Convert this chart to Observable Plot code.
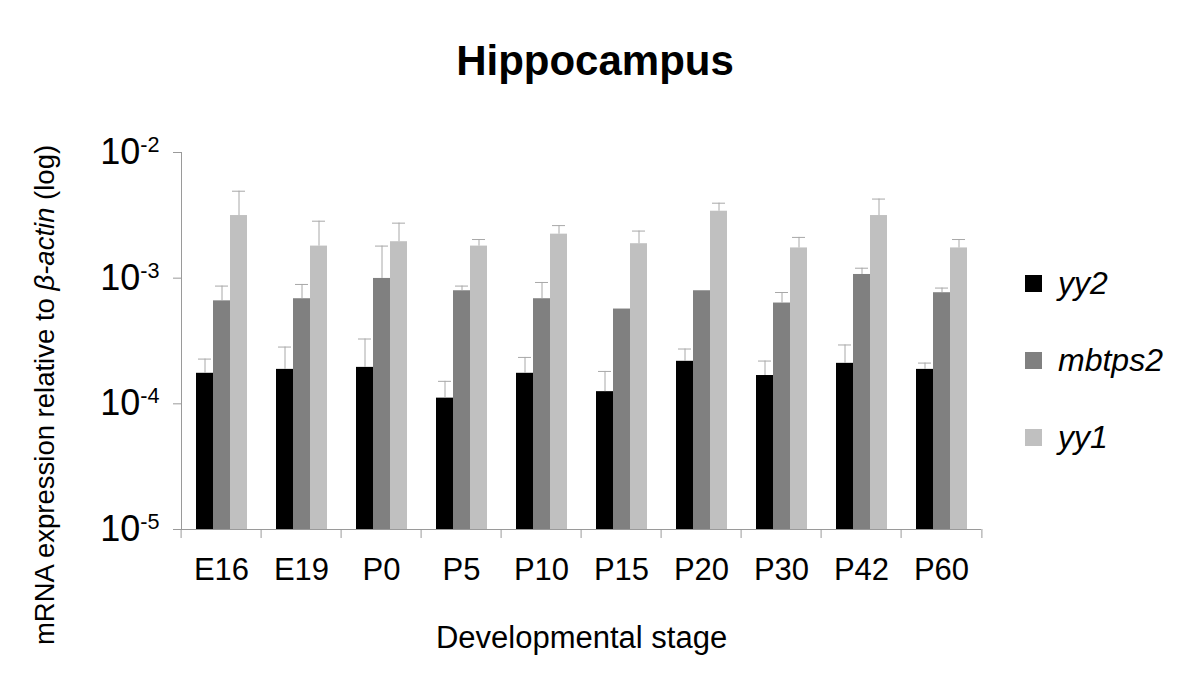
<!DOCTYPE html>
<html>
<head>
<meta charset="utf-8">
<script src="https://cdn.jsdelivr.net/npm/d3@7"></script>
<script src="https://cdn.jsdelivr.net/npm/@observablehq/plot@0.6"></script>
<style>
  html, body { margin: 0; padding: 0; background: #fff; }
  #wrap { position: relative; width: 1200px; height: 691px; font-family: "Liberation Sans", Arial, sans-serif; }
  #title { position: absolute; left: 0; top: 40px; width: 1190px; text-align: center; font-weight: bold; font-size: 42px; line-height: 42px; color: #000; }
  #legend { position: absolute; left: 1025px; top: 265px; display: flex; flex-direction: column; gap: 41px; }
  .item { display: flex; align-items: center; height: 36px; font-size: 32px; font-style: italic; color: #000; }
  .sw { width: 17px; height: 17px; margin-right: 16px; }
</style>
</head>
<body>
<div id="wrap">
  <div id="chart"></div>
  <div id="title">Hippocampus</div>
  <div id="legend"></div>
</div>
<script>
const stages = ["E16", "E19", "P0", "P5", "P10", "P15", "P20", "P30", "P42", "P60"];
const seriesNames = ["yy2", "mbtps2", "yy1"];
const seriesColors = ["#000000", "#808080", "#c0c0c0"];

const yy2     = [1.75e-4, 1.88e-4, 1.95e-4, 1.11e-4, 1.75e-4, 1.25e-4, 2.18e-4, 1.68e-4, 2.10e-4, 1.88e-4];
const yy2Err  = [0.52e-4, 0.95e-4, 1.33e-4, 0.40e-4, 0.59e-4, 0.56e-4, 0.55e-4, 0.51e-4, 0.84e-4, 0.23e-4];
const mbtps2    = [6.60e-4, 6.86e-4, 9.95e-4, 7.94e-4, 6.86e-4, 5.68e-4, 7.94e-4, 6.34e-4, 1.07e-3, 7.66e-4];
const mbtps2Err = [2.05e-4, 2.05e-4, 8.05e-4, 0.71e-4, 2.38e-4, 0, 0, 1.35e-4, 1.30e-4, 0.68e-4];
const yy1     = [3.15e-3, 1.80e-3, 1.95e-3, 1.80e-3, 2.24e-3, 1.88e-3, 3.41e-3, 1.74e-3, 3.15e-3, 1.74e-3];
const yy1Err  = [1.77e-3, 1.04e-3, 0.79e-3, 0.23e-3, 0.38e-3, 0.49e-3, 0.54e-3, 0.37e-3, 1.11e-3, 0.29e-3];

const yTicks = [1e-5, 1e-4, 1e-3, 1e-2];
const yBase = 1e-5;

const valuesBySeries = {yy2: [yy2, yy2Err], mbtps2: [mbtps2, mbtps2Err], yy1: [yy1, yy1Err]};
const rows = [];
stages.forEach((stage, i) => {
  seriesNames.forEach(s => {
    const [v, e] = valuesBySeries[s];
    rows.push({stage, series: s, value: v[i], err: e[i], top: v[i] + e[i]});
  });
});
const errRows = rows.filter(d => d.err > 0);

const W = 1200, H = 691, mL = 177, mR = 215, mT = 152, mB = 162;
const bw = (W - mL - mR) / stages.length;
const axisColor = "#9a9a9a";

const chart = Plot.plot({
  width: W, height: H,
  marginLeft: mL, marginRight: mR, marginTop: mT, marginBottom: mB,
  style: {fontFamily: "'Liberation Sans', Arial, sans-serif", background: "white", color: "black"},
  fx: {domain: stages, paddingInner: 0, paddingOuter: 0},
  x: {domain: seriesNames, paddingInner: 0, paddingOuter: 0.744, axis: null},
  y: {type: "log", domain: [1e-5, 1e-2]},
  color: {domain: seriesNames, range: seriesColors},
  marks: [
    Plot.barY(rows, {fx: "stage", x: "series", y1: yBase, y2: "value", fill: "series"}),
    Plot.ruleX(errRows, {fx: "stage", x: "series", y1: "value", y2: "top", stroke: "#a8a8a8", strokeWidth: 1}),
    Plot.tickY(errRows, {fx: "stage", x: "series", y: "top", stroke: "#a8a8a8", strokeWidth: 1, insetLeft: 2, insetRight: 2}),
    Plot.ruleY([yBase], {stroke: axisColor, strokeWidth: 1}),
    Plot.frame({anchor: "left", facet: "super", stroke: axisColor, strokeWidth: 1}),
    Plot.axisY({
      ticks: yTicks, tickSize: 8, tickPadding: 14, fontSize: 36, stroke: axisColor, fill: "black",
      tickFormat: d => "10^" + Math.round(Math.log10(d)),
      label: "mRNA expression relative to β-actin (log)", labelAnchor: "center", labelOffset: 147
    }),
    Plot.axisFx({anchor: "bottom", tickSize: 9, tickFormat: () => "", dx: -bw / 2, stroke: axisColor, label: null}),
    Plot.axisFx({anchor: "bottom", ticks: [stages[stages.length - 1]], tickSize: 9, tickFormat: () => "", dx: bw / 2, stroke: axisColor, label: null}),
    Plot.axisFx({anchor: "bottom", tickSize: 0, tickPadding: 28, fontSize: 31, fill: "black",
      label: "Developmental stage", labelAnchor: "center", labelOffset: 118})
  ]
});

// superscript exponents and italic gene name
chart.querySelectorAll("text").forEach(t => {
  const s = t.textContent;
  const m = s.match(/^10\^(-?\d+)$/);
  if (m) {
    t.innerHTML = `10<tspan dy="-0.55em" font-size="0.6em">${m[1]}</tspan>`;
  } else if (s.includes("β-actin")) {
    t.innerHTML = `mRNA expression relative to <tspan font-style="italic">β-actin</tspan> (log)`;
    t.setAttribute("font-size", "27.5");
    t.setAttribute("dx", "-54");
  }
});

document.getElementById("chart").appendChild(chart);

const legend = document.getElementById("legend");
seriesNames.forEach((s, i) => {
  const item = document.createElement("div");
  item.className = "item";
  const sw = document.createElement("div");
  sw.className = "sw";
  sw.style.background = seriesColors[i];
  const lab = document.createElement("span");
  lab.textContent = s;
  item.appendChild(sw);
  item.appendChild(lab);
  legend.appendChild(item);
});
</script>
</body>
</html>
